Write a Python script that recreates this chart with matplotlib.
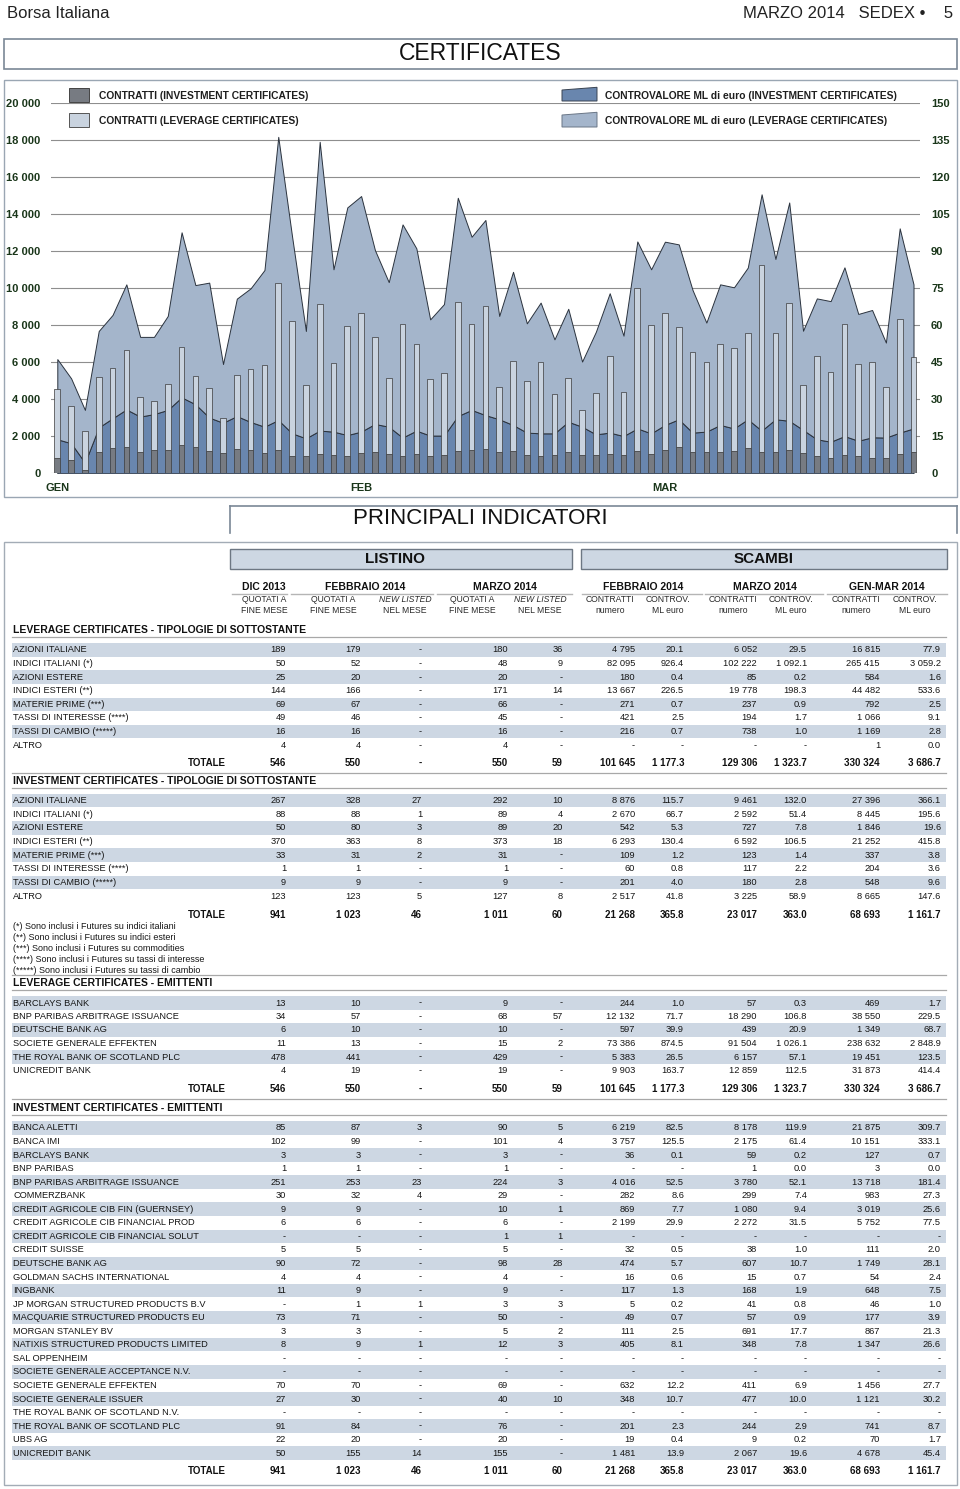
import numpy as np
import matplotlib.pyplot as plt
from matplotlib.patches import Rectangle, Polygon
from matplotlib.ticker import FuncFormatter

plt.rcParams['font.family'] = ['Liberation Sans', 'DejaVu Sans']

# ============================================================
# CHART DATA (daily, Jan-Mar 2014, 63 trading days)
# ============================================================

INV_CONTRATTI = [847, 721, 162, 1135, 1370, 1424, 1171, 1261, 1261, 1514, 1424, 1189, 1099, 1315, 1279, 1117,
                 1261, 955, 937, 1045, 973, 955, 1099, 1135, 1063, 937, 1045, 937, 973, 1225, 1261, 1297,
                 1153, 1207, 991, 955, 973, 1153, 973, 991, 1045, 973, 1207, 1045, 1261, 1424, 1153, 1135,
                 1153, 1225, 1370, 1171, 1135, 1261, 1081, 919, 829, 991, 937, 829, 829, 1045, 1171]
LEV_CONTRATTI = [3694, 2919, 2145, 4091, 4306, 5261, 2938, 2649, 3586, 5316, 3856, 3442, 1874, 3983, 4343, 4757,
                 9028, 7280, 3820, 8091, 4974, 6992, 7587, 6217, 4073, 7118, 5929, 4145, 4469, 8019, 6812, 7767,
                 3532, 4884, 4019, 5082, 3334, 4019, 2469, 3370, 5280, 3406, 8794, 6974, 7425, 6505, 5406, 4884,
                 5821, 5532, 6198, 10073, 6469, 7965, 3676, 5442, 4631, 7064, 4992, 5172, 3820, 7298, 5100]
INV_CONTROV = [13.8, 12.2, 4.3, 18.6, 22.3, 25.9, 23.0, 24.0, 25.7, 30.8, 28.0, 22.6, 20.5, 23.2, 20.8, 18.9,
               21.6, 16.2, 14.2, 17.3, 16.9, 15.5, 16.9, 20.0, 18.9, 14.5, 17.3, 15.3, 15.3, 23.2, 25.7, 23.6,
               21.9, 19.6, 16.5, 16.2, 16.2, 20.9, 18.9, 15.8, 16.5, 15.1, 18.2, 16.2, 19.6, 21.9, 16.5, 16.9,
               19.6, 18.2, 21.9, 17.3, 21.9, 21.3, 17.6, 13.8, 12.8, 15.1, 13.2, 14.6, 14.5, 16.5, 18.2]
LEV_CONTROV = [32.5, 26.3, 21.4, 39.1, 41.9, 50.7, 32.3, 31.3, 38.1, 66.9, 48.3, 54.7, 23.8, 47.6, 54.2, 63.5,
               114.8, 79.8, 43.5, 117.1, 65.8, 92.3, 95.5, 70.5, 58.6, 86.4, 73.9, 47.1, 53.3, 88.5, 70.2, 79.1,
               41.9, 62.1, 44.3, 53.0, 38.1, 45.8, 26.4, 41.6, 56.5, 40.7, 75.8, 66.5, 74.3, 70.9, 57.8, 44.2,
               57.0, 57.2, 61.5, 95.8, 65.0, 88.5, 40.2, 57.1, 57.0, 68.4, 51.4, 51.6, 38.5, 82.8, 58.4]
MONTH_TICKS = [0, 22, 44]
MONTH_LABELS = ["GEN", "FEB", "MAR"]

# ============================================================
# TABLE DATA
# ============================================================

GROUP_HEADERS = ["DIC 2013", "FEBBRAIO 2014", "MARZO 2014", "FEBBRAIO 2014", "MARZO 2014", "GEN-MAR 2014"]
SUB_HEAD_1 = ["QUOTATI A", "QUOTATI A", "NEW LISTED", "QUOTATI A", "NEW LISTED",
              "CONTRATTI", "CONTROV.", "CONTRATTI", "CONTROV.", "CONTRATTI", "CONTROV."]
SUB_HEAD_2 = ["FINE MESE", "FINE MESE", "NEL MESE", "FINE MESE", "NEL MESE",
              "numero", "ML euro", "numero", "ML euro", "numero", "ML euro"]

LEV_TIP_LABELS = ["AZIONI ITALIANE", "INDICI ITALIANI (*)", "AZIONI ESTERE", "INDICI ESTERI (**)",
                  "MATERIE PRIME (***)", "TASSI DI INTERESSE (****)", "TASSI DI CAMBIO (*****)", "ALTRO"]
LEV_TIP_VALUES = [
    ["189", "179", "-", "180", "36", "4 795", "20.1", "6 052", "29.5", "16 815", "77.9"],
    ["50", "52", "-", "48", "9", "82 095", "926.4", "102 222", "1 092.1", "265 415", "3 059.2"],
    ["25", "20", "-", "20", "-", "180", "0.4", "85", "0.2", "584", "1.6"],
    ["144", "166", "-", "171", "14", "13 667", "226.5", "19 778", "198.3", "44 482", "533.6"],
    ["69", "67", "-", "66", "-", "271", "0.7", "237", "0.9", "792", "2.5"],
    ["49", "46", "-", "45", "-", "421", "2.5", "194", "1.7", "1 066", "9.1"],
    ["16", "16", "-", "16", "-", "216", "0.7", "738", "1.0", "1 169", "2.8"],
    ["4", "4", "-", "4", "-", "-", "-", "-", "-", "1", "0.0"],
]
LEV_TOTALE = ["546", "550", "-", "550", "59", "101 645", "1 177.3", "129 306", "1 323.7", "330 324", "3 686.7"]

INV_TIP_LABELS = LEV_TIP_LABELS
INV_TIP_VALUES = [
    ["267", "328", "27", "292", "10", "8 876", "115.7", "9 461", "132.0", "27 396", "366.1"],
    ["88", "88", "1", "89", "4", "2 670", "66.7", "2 592", "51.4", "8 445", "195.6"],
    ["50", "80", "3", "89", "20", "542", "5.3", "727", "7.8", "1 846", "19.6"],
    ["370", "363", "8", "373", "18", "6 293", "130.4", "6 592", "106.5", "21 252", "415.8"],
    ["33", "31", "2", "31", "-", "109", "1.2", "123", "1.4", "337", "3.8"],
    ["1", "1", "-", "1", "-", "60", "0.8", "117", "2.2", "204", "3.6"],
    ["9", "9", "-", "9", "-", "201", "4.0", "180", "2.8", "548", "9.6"],
    ["123", "123", "5", "127", "8", "2 517", "41.8", "3 225", "58.9", "8 665", "147.6"],
]
INV_TOTALE = ["941", "1 023", "46", "1 011", "60", "21 268", "365.8", "23 017", "363.0", "68 693", "1 161.7"]

FOOTNOTES = ["(*) Sono inclusi i Futures su indici italiani",
             "(**) Sono inclusi i Futures su indici esteri",
             "(***) Sono inclusi i Futures su commodities",
             "(****) Sono inclusi i Futures su tassi di interesse",
             "(*****) Sono inclusi i Futures su tassi di cambio"]

LEV_EMI_LABELS = ["BARCLAYS BANK", "BNP PARIBAS ARBITRAGE ISSUANCE", "DEUTSCHE BANK AG",
                  "SOCIETE GENERALE EFFEKTEN", "THE ROYAL BANK OF SCOTLAND PLC", "UNICREDIT BANK"]
LEV_EMI_VALUES = [
    ["13", "10", "-", "9", "-", "244", "1.0", "57", "0.3", "469", "1.7"],
    ["34", "57", "-", "68", "57", "12 132", "71.7", "18 290", "106.8", "38 550", "229.5"],
    ["6", "10", "-", "10", "-", "597", "39.9", "439", "20.9", "1 349", "68.7"],
    ["11", "13", "-", "15", "2", "73 386", "874.5", "91 504", "1 026.1", "238 632", "2 848.9"],
    ["478", "441", "-", "429", "-", "5 383", "26.5", "6 157", "57.1", "19 451", "123.5"],
    ["4", "19", "-", "19", "-", "9 903", "163.7", "12 859", "112.5", "31 873", "414.4"],
]

INV_EMI_LABELS = ["BANCA ALETTI", "BANCA IMI", "BARCLAYS BANK", "BNP PARIBAS", "BNP PARIBAS ARBITRAGE ISSUANCE",
                  "COMMERZBANK", "CREDIT AGRICOLE CIB FIN (GUERNSEY)", "CREDIT AGRICOLE CIB FINANCIAL PROD",
                  "CREDIT AGRICOLE CIB FINANCIAL SOLUT", "CREDIT SUISSE", "DEUTSCHE BANK AG",
                  "GOLDMAN SACHS INTERNATIONAL", "INGBANK", "JP MORGAN STRUCTURED PRODUCTS B.V",
                  "MACQUARIE STRUCTURED PRODUCTS EU", "MORGAN STANLEY BV", "NATIXIS STRUCTURED PRODUCTS LIMITED",
                  "SAL OPPENHEIM", "SOCIETE GENERALE ACCEPTANCE N.V.", "SOCIETE GENERALE EFFEKTEN",
                  "SOCIETE GENERALE ISSUER", "THE ROYAL BANK OF SCOTLAND N.V.", "THE ROYAL BANK OF SCOTLAND PLC",
                  "UBS AG", "UNICREDIT BANK"]
INV_EMI_VALUES = [
    ["85", "87", "3", "90", "5", "6 219", "82.5", "8 178", "119.9", "21 875", "309.7"],
    ["102", "99", "-", "101", "4", "3 757", "125.5", "2 175", "61.4", "10 151", "333.1"],
    ["3", "3", "-", "3", "-", "36", "0.1", "59", "0.2", "127", "0.7"],
    ["1", "1", "-", "1", "-", "-", "-", "1", "0.0", "3", "0.0"],
    ["251", "253", "23", "224", "3", "4 016", "52.5", "3 780", "52.1", "13 718", "181.4"],
    ["30", "32", "4", "29", "-", "282", "8.6", "299", "7.4", "983", "27.3"],
    ["9", "9", "-", "10", "1", "869", "7.7", "1 080", "9.4", "3 019", "25.6"],
    ["6", "6", "-", "6", "-", "2 199", "29.9", "2 272", "31.5", "5 752", "77.5"],
    ["-", "-", "-", "1", "1", "-", "-", "-", "-", "-", "-"],
    ["5", "5", "-", "5", "-", "32", "0.5", "38", "1.0", "111", "2.0"],
    ["90", "72", "-", "98", "28", "474", "5.7", "607", "10.7", "1 749", "28.1"],
    ["4", "4", "-", "4", "-", "16", "0.6", "15", "0.7", "54", "2.4"],
    ["11", "9", "-", "9", "-", "117", "1.3", "168", "1.9", "648", "7.5"],
    ["-", "1", "1", "3", "3", "5", "0.2", "41", "0.8", "46", "1.0"],
    ["73", "71", "-", "50", "-", "49", "0.7", "57", "0.9", "177", "3.9"],
    ["3", "3", "-", "5", "2", "111", "2.5", "691", "17.7", "867", "21.3"],
    ["8", "9", "1", "12", "3", "405", "8.1", "348", "7.8", "1 347", "26.6"],
    ["-", "-", "-", "-", "-", "-", "-", "-", "-", "-", "-"],
    ["-", "-", "-", "-", "-", "-", "-", "-", "-", "-", "-"],
    ["70", "70", "-", "69", "-", "632", "12.2", "411", "6.9", "1 456", "27.7"],
    ["27", "30", "-", "40", "10", "348", "10.7", "477", "10.0", "1 121", "30.2"],
    ["-", "-", "-", "-", "-", "-", "-", "-", "-", "-", "-"],
    ["91", "84", "-", "76", "-", "201", "2.3", "244", "2.9", "741", "8.7"],
    ["22", "20", "-", "20", "-", "19", "0.4", "9", "0.2", "70", "1.7"],
    ["50", "155", "14", "155", "-", "1 481", "13.9", "2 067", "19.6", "4 678", "45.4"],
]

# ============================================================
# STYLE / LAYOUT (pixel coordinates on a 960 x 1489 page)
# ============================================================

W, H = 960, 1489
TXT = "#161616"
TICK_GREEN = "#1a361a"
BAND = "#cdd7e3"
C_BAR_INV = "#777b82"
C_BAR_LEV = "#c9d3df"
C_AREA_INV = "#6986ae"
C_AREA_LEV = "#a4b5cb"

COL_RIGHT = [286, 361, 422, 508, 563, 635, 684, 757, 807, 880, 941]
SUB_CENTER = [264, 333, 405, 472, 540, 610, 668, 733, 791, 856, 915]
GROUP_CENTER = [264, 365, 505, 643, 765, 887]
GROUP_LINES = [(232, 287), (291, 433), (437, 572), (582, 702), (705, 823), (827, 947)]

FS_ROW = 6.7
FS_SUB = 6.2
FS_HEAD = 7.5


def px_rect(x0, y0, x1, y1):
    return [x0 / W, 1 - y1 / H, (x1 - x0) / W, (y1 - y0) / H]


fig = plt.figure(figsize=(W / 100, H / 100), dpi=100)

# ============================================================
# CHART
# ============================================================

ax_c = fig.add_axes(px_rect(50.7, 103.3, 920.0, 473.3))
ax_v = ax_c.twinx()
ax_c.set_zorder(ax_v.get_zorder() + 1)
ax_c.patch.set_visible(False)

x = np.arange(len(INV_CONTRATTI))

ax_v.stackplot(x, INV_CONTROV, LEV_CONTROV, colors=[C_AREA_INV, C_AREA_LEV],
               edgecolor="#2a323d", linewidth=0.7)
ax_v.set_ylim(0, 150)
ax_v.set_yticks(np.arange(0, 151, 15))
ax_v.set_axisbelow(True)
ax_v.yaxis.grid(True, color="#8e8e8e", linewidth=0.8)

ax_c.bar(x, INV_CONTRATTI, width=0.41, color=C_BAR_INV, edgecolor="#3a3a3a", linewidth=0.5)
ax_c.bar(x, LEV_CONTRATTI, bottom=INV_CONTRATTI, width=0.41, color=C_BAR_LEV,
         edgecolor="#3a3a3a", linewidth=0.5)
ax_c.set_ylim(0, 20000)
ax_c.set_yticks(np.arange(0, 20001, 2000))
ax_c.yaxis.set_major_formatter(FuncFormatter(lambda v, p: f"{int(v):,}".replace(",", " ")))
ax_c.set_xlim(-0.478, 62.47)
ax_c.set_xticks(MONTH_TICKS)
ax_c.set_xticklabels(MONTH_LABELS)

for a in (ax_c, ax_v):
    for s in a.spines.values():
        s.set_visible(False)
ax_c.tick_params(axis="y", length=0, pad=7.5, labelsize=8, labelcolor=TICK_GREEN)
ax_v.tick_params(axis="y", length=0, pad=8, labelsize=8, labelcolor=TICK_GREEN)
ax_c.tick_params(axis="x", length=0, pad=7, labelsize=8, labelcolor=TICK_GREEN)
for lab in ax_c.get_yticklabels() + ax_v.get_yticklabels() + ax_c.get_xticklabels():
    lab.set_fontweight("bold")

# ============================================================
# PAGE OVERLAY (header, legends, tables)
# ============================================================

pg = fig.add_axes([0, 0, 1, 1])
pg.set_zorder(10)
pg.set_xlim(0, W)
pg.set_ylim(H, 0)
pg.axis("off")
pg.patch.set_alpha(0)

pg.text(7, 13, "Borsa Italiana", fontsize=12, color="#222222", va="center", ha="left")
pg.text(953, 13, "MARZO 2014   SEDEX \u2022    5", fontsize=12, color="#222222", va="center", ha="right")

pg.add_patch(Rectangle((3.5, 38.5), 953, 30, fill=False, edgecolor="#7a8796", linewidth=1.2))
pg.text(480, 54, "CERTIFICATES", fontsize=16.5, color="#111111", va="center", ha="center")

pg.add_patch(Rectangle((3.5, 79.5), 953, 417, fill=False, edgecolor="#9aa6b3", linewidth=1.0))

# legends
pg.add_patch(Rectangle((69, 87.5), 20, 14, facecolor=C_BAR_INV, edgecolor="#444444", linewidth=0.7))
pg.add_patch(Rectangle((69, 112.5), 20, 14.5, facecolor=C_BAR_LEV, edgecolor="#555555", linewidth=0.7))
pg.text(99, 96, "CONTRATTI (INVESTMENT CERTIFICATES)", fontsize=7.4, fontweight="bold",
        color="#1e1e1e", va="center")
pg.text(99, 121, "CONTRATTI (LEVERAGE CERTIFICATES)", fontsize=7.4, fontweight="bold",
        color="#1e1e1e", va="center")
pg.add_patch(Polygon([(562, 101), (562, 90), (597, 87.3), (597, 101)], closed=True,
                     facecolor=C_AREA_INV, edgecolor="#3a4452", linewidth=0.7))
pg.add_patch(Polygon([(562, 127), (562, 115), (597, 112.3), (597, 127)], closed=True,
                     facecolor=C_AREA_LEV, edgecolor="#6a7686", linewidth=0.7))
pg.text(605, 96, "CONTROVALORE ML di euro (INVESTMENT CERTIFICATES)", fontsize=7.4,
        fontweight="bold", color="#1e1e1e", va="center")
pg.text(605, 121, "CONTROVALORE ML di euro (LEVERAGE CERTIFICATES)", fontsize=7.4,
        fontweight="bold", color="#1e1e1e", va="center")

# PRINCIPALI INDICATORI
pg.plot([230, 956.5], [505.5, 505.5], color="#7a8796", linewidth=1.2)
pg.plot([230, 230], [505.5, 533], color="#7a8796", linewidth=1.2)
pg.plot([956.5, 956.5], [505.5, 533], color="#7a8796", linewidth=1.2)
pg.text(480, 519, "PRINCIPALI INDICATORI", fontsize=16, color="#111111", va="center", ha="center")

# table frame
pg.add_patch(Rectangle((3.5, 541.5), 953, 943, fill=False, edgecolor="#a3acb6", linewidth=1.0))

pg.add_patch(Rectangle((230, 548.5), 342, 20, facecolor=BAND, edgecolor="#6d7783", linewidth=1.0))
pg.add_patch(Rectangle((581, 548.5), 366, 20, facecolor=BAND, edgecolor="#6d7783", linewidth=1.0))
pg.text(395, 559, "LISTINO", fontsize=11, fontweight="bold", color="#111111", va="center", ha="center")
pg.text(764, 559, "SCAMBI", fontsize=11, fontweight="bold", color="#111111", va="center", ha="center")

for cx, label in zip(GROUP_CENTER, GROUP_HEADERS):
    pg.text(cx, 587, label, fontsize=FS_HEAD, fontweight="bold", color="#111111", va="center", ha="center")
for x0, x1 in GROUP_LINES:
    pg.plot([x0, x1], [593.5, 593.5], color="#b5b5b5", linewidth=1.0)
for cx, l1, l2 in zip(SUB_CENTER, SUB_HEAD_1, SUB_HEAD_2):
    style = "italic" if l1 == "NEW LISTED" else "normal"
    pg.text(cx, 599, l1, fontsize=FS_SUB, style=style, color="#2a2a2a", va="center", ha="center")
    pg.text(cx, 610.5, l2, fontsize=FS_SUB, color="#2a2a2a", va="center", ha="center")


def hline(y):
    pg.plot([12, 946], [y, y], color="#a8a8a8", linewidth=0.9)


def section_title(y, title):
    pg.text(13, y, title, fontsize=FS_HEAD, fontweight="bold", color="#111111", va="center")
    hline(y + 7)


def rows(y0, step, labels, values):
    for i, (lab, vals) in enumerate(zip(labels, values)):
        y = y0 + i * step
        if i % 2 == 0:
            pg.add_patch(Rectangle((12, y - 6.9), 934, 13.6, facecolor=BAND, edgecolor="none"))
        pg.text(13, y, lab, fontsize=FS_ROW, color=TXT, va="center")
        for xr, v in zip(COL_RIGHT, vals):
            pg.text(xr, y, v, fontsize=FS_ROW, color=TXT, va="center", ha="right")


def totale(y, vals):
    pg.text(226, y, "TOTALE", fontsize=7, fontweight="bold", color="#111111", va="center", ha="right")
    for xr, v in zip(COL_RIGHT, vals):
        pg.text(xr, y, v, fontsize=7, fontweight="bold", color="#111111", va="center", ha="right")


section_title(630, "LEVERAGE CERTIFICATES - TIPOLOGIE DI SOTTOSTANTE")
rows(650, 13.6, LEV_TIP_LABELS, LEV_TIP_VALUES)
totale(762.5, LEV_TOTALE)
hline(773)

section_title(781, "INVESTMENT CERTIFICATES - TIPOLOGIE DI SOTTOSTANTE")
rows(800.5, 13.65, INV_TIP_LABELS, INV_TIP_VALUES)
totale(914.5, INV_TOTALE)
for i, note in enumerate(FOOTNOTES):
    pg.text(13, 926.5 + i * 11, note, fontsize=6.5, color=TXT, va="center")
hline(975)

section_title(983, "LEVERAGE CERTIFICATES - EMITTENTI")
rows(1003, 13.5, LEV_EMI_LABELS, LEV_EMI_VALUES)
totale(1089, LEV_TOTALE)
hline(1099)

section_title(1108, "INVESTMENT CERTIFICATES - EMITTENTI")
rows(1128, 13.55, INV_EMI_LABELS, INV_EMI_VALUES)
totale(1471.5, INV_TOTALE)

fig.savefig("out.png", dpi=100)
